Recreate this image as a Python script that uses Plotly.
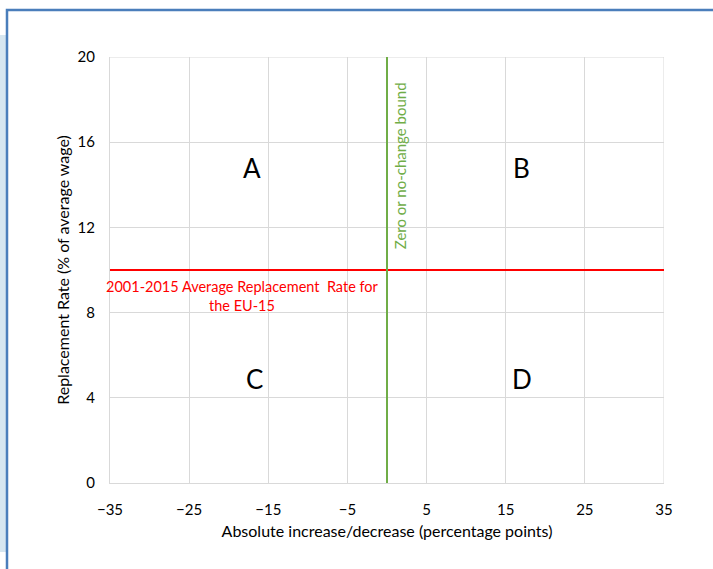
import plotly.graph_objects as go

x_range = [-35, 35]
y_range = [0, 20]
x_ticks = [-35, -25, -15, -5, 5, 15, 25, 35]
y_ticks = [0, 4, 8, 12, 16, 20]
avg_rate = 10
zero_bound = 0
quadrant_labels = ["A", "B", "C", "D"]
quadrant_x = [-17, 17, -16.7, 17]
quadrant_y = [14.8, 14.8, 4.9, 4.9]

W, H = 713, 569
L, R, T, B = 110, 49, 57, 86
pw, ph = W - L - R, H - T - B

def px2paper(px, py):
    return (px - L) / pw, (H - B - py) / ph

fig = go.Figure()
fig.add_trace(go.Scatter(x=x_range, y=[avg_rate, avg_rate], mode="lines",
                         line=dict(color="#ff0000", width=2), hoverinfo="skip"))
fig.add_trace(go.Scatter(x=[zero_bound, zero_bound], y=y_range, mode="lines",
                         line=dict(color="#70ad47", width=2), hoverinfo="skip"))

font = "Lato, 'Open Sans', sans-serif"
for lab, xx, yy in zip(quadrant_labels, quadrant_x, quadrant_y):
    fig.add_annotation(x=xx, y=yy, text=lab, showarrow=False,
                       font=dict(size=26, color="#000000", family=font))

fig.add_annotation(x=1.6, y=14.9, text="Zero or no-change bound", textangle=-90,
                   showarrow=False, font=dict(size=15, color="#70ad47", family=font))
fig.add_annotation(x=-18.2, y=8.8, text="2001-2015 Average Replacement  Rate for<br>the EU-15",
                   showarrow=False, align="center",
                   font=dict(size=14.5, color="#ff0000", family=font))

x0, y0 = px2paper(7, 569)
x1, y1 = px2paper(713, 10)
fig.add_shape(type="rect", xref="paper", yref="paper",
              x0=px2paper(0, 0)[0], x1=px2paper(6, 0)[0],
              y0=px2paper(0, 552)[1], y1=px2paper(0, 35)[1],
              line=dict(width=0), fillcolor="#d6e6f0", layer="below")
fig.add_shape(type="path", xref="paper", yref="paper",
              path=f"M {x0} {y0} L {x0} {y1} L {x1} {y1}",
              line=dict(color="#4a7ebb", width=2.5))

fig.update_layout(
    width=W, height=H,
    margin=dict(l=L, r=R, t=T, b=B),
    paper_bgcolor="white", plot_bgcolor="white",
    showlegend=False,
    font=dict(family=font, size=15, color="#000000"),
    xaxis=dict(range=x_range, tickvals=x_ticks, showgrid=True, gridcolor="#d9d9d9",
               gridwidth=1, zeroline=False, showline=True, linecolor="#d9d9d9",
               ticks="outside", ticklen=13, tickcolor="rgba(0,0,0,0)",
               title=dict(text="Absolute increase/decrease (percentage points)",
                          font=dict(size=16), standoff=8),
               tickfont=dict(size=15)),
    yaxis=dict(range=y_range, tickvals=y_ticks, showgrid=True, gridcolor="#d9d9d9",
               gridwidth=1, zeroline=False, showline=True, linecolor="#d9d9d9",
               ticks="outside", ticklen=11, tickcolor="rgba(0,0,0,0)",
               title=dict(text="Replacement Rate (% of average wage)",
                          font=dict(size=16), standoff=3),
               tickfont=dict(size=15)),
)
fig.add_shape(type="line", xref="x", yref="y", x0=35, x1=35, y0=0, y1=20,
              line=dict(color="#d9d9d9", width=1), layer="below")
fig.add_shape(type="line", xref="x", yref="y", x0=-35, x1=35, y0=20, y1=20,
              line=dict(color="#d9d9d9", width=1), layer="below")

fig.write_html("out.html", config={"displayModeBar": False},
               post_script="document.body.style.margin='0';document.body.style.overflow='hidden';")
